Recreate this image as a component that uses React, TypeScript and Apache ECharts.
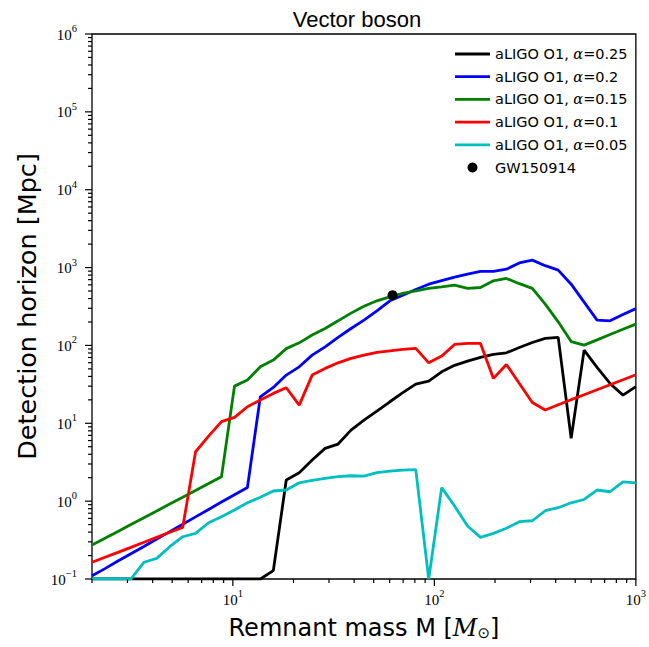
import React, { useEffect, useRef } from "react";
import * as echarts from "echarts";

// Remnant masses (solar masses) at which the horizons are sampled
const masses = [
  2.0, 2.32, 2.69, 3.12, 3.62, 4.19, 4.86, 5.64, 6.53, 7.58, 8.78, 10.19, 11.81,
  13.69, 15.88, 18.41, 21.35, 24.75, 28.7, 33.28, 38.58, 44.74, 51.87, 60.14,
  69.74, 80.86, 93.76, 108.7, 126.0, 146.1, 169.4, 196.4, 227.8, 264.1, 306.2,
  355.1, 411.7, 477.4, 553.5, 641.8, 744.2, 862.9, 1000,
];

// Detection horizon [Mpc]
const alpha025 = [
  0.1, 0.1, 0.1, 0.1, 0.1, 0.1, 0.1, 0.1, 0.1, 0.1, 0.1, 0.1, 0.1, 0.1,
  0.128, 1.87, 2.32, 3.37, 4.76, 5.41, 8.18, 11.0, 14.3, 18.9, 24.8, 31.9, 34.8,
  45.8, 55.5, 62.9, 70.1, 76.6, 80.4, 94.2, 109, 123, 127, 6.4, 87.1, 52.2,
  32.5, 23.0, 29.6,
];
const alpha02 = [
  0.11, 0.136, 0.17, 0.211, 0.262, 0.327, 0.406, 0.505, 0.628, 0.782, 0.973,
  1.21, 1.5, 21.9, 28.9, 41.6, 53.1, 75.1, 96, 127, 165, 211, 278, 374, 442,
  524, 612, 679, 753, 823, 891, 891, 953, 1148, 1245, 1057, 926, 612, 360, 211,
  207, 249, 297,
];
const alpha015 = [
  0.273, 0.334, 0.408, 0.5, 0.612, 0.748, 0.916, 1.12, 1.37, 1.68, 2.06, 30.0,
  35.9, 53.1, 64.8, 91, 108, 136, 165, 207, 260, 319, 374, 421, 465, 502, 540,
  565, 594, 540, 555, 675, 725, 621, 540, 339, 201, 112, 101, 118, 138, 161,
  188,
];
const alpha01 = [
  0.164, 0.19, 0.22, 0.255, 0.296, 0.343, 0.398, 0.461, 4.31, 6.85, 10.5, 11.9,
  16.3, 19.9, 24.2, 28.6, 17.1, 41.6, 50.7, 59.8, 68.1, 75.1, 81.3, 85.3, 88.9,
  91.5, 59.8, 72.9, 103, 106, 106, 37.7, 57, 32.5, 18.5, 14.8, 17.3, 20.1,
  23.3, 27.0, 31.3, 36.3, 42.1,
];
const alpha005 = [
  0.1, 0.1, 0.1, 0.1, 0.164, 0.184, 0.26, 0.349, 0.386, 0.528, 0.631, 0.769,
  0.953, 1.12, 1.35, 1.39, 1.72, 1.85, 1.96, 2.06, 2.12, 2.09, 2.32, 2.43,
  2.51, 2.54, 0.1, 1.49, 0.865, 0.479, 0.343, 0.386, 0.448, 0.544, 0.56, 0.753,
  0.823, 0.953, 1.05, 1.39, 1.32, 1.77, 1.72,
];
const gw150914 = [[62, 442]];

const seriesNames = [
  "aLIGO O1, α=0.25",
  "aLIGO O1, α=0.2",
  "aLIGO O1, α=0.15",
  "aLIGO O1, α=0.1",
  "aLIGO O1, α=0.05",
];
const seriesColors = ["#000000", "#0000ff", "#008000", "#ff0000", "#00bfbf"];
const seriesValues = [alpha025, alpha02, alpha015, alpha01, alpha005];

const X_MIN = 2;
const X_MAX = 1000;
const Y_MIN = 0.1;
const Y_MAX = 1e6;
const xDecades = [1, 10, 100, 1000];
const yDecades = [0.1, 1, 10, 100, 1000, 10000, 100000, 1000000];
const minorMultipliers = [2, 3, 4, 5, 6, 7, 8, 9];

export default function App() {
  const ref = useRef<HTMLDivElement>(null);

  useEffect(() => {
    if (!ref.current) return;
    const chart = echarts.init(ref.current, undefined, { renderer: "svg" });

    // tick marks: [x, y, length, orientation(0 = x axis, 1 = y axis)]
    const ticks: number[][] = [];
    xDecades.forEach((d) => {
      if (d >= X_MIN && d <= X_MAX) ticks.push([d, Y_MIN, 7, 0]);
      minorMultipliers.forEach((m) => {
        const v = d * m;
        if (v >= X_MIN && v <= X_MAX) ticks.push([v, Y_MIN, 4, 0]);
      });
    });
    yDecades.forEach((d) => {
      ticks.push([X_MIN, d, 7, 1]);
      minorMultipliers.forEach((m) => {
        const v = d * m;
        if (v <= Y_MAX) ticks.push([X_MIN, v, 4, 1]);
      });
    });

    const sup = (v: number) => {
      const e = Math.round(Math.log10(v));
      const es = e < 0 ? "−" + Math.abs(e) : String(e);
      return "{b|10}{s|" + es + "}";
    };
    const tickRich = {
      b: {
        fontSize: 15,
        fontFamily: "Liberation Serif",
        color: "#000",
        verticalAlign: "bottom",
        lineHeight: 16,
      },
      s: {
        fontSize: 10.5,
        fontFamily: "Liberation Serif",
        color: "#000",
        verticalAlign: "bottom",
        lineHeight: 10,
        padding: [0, 0, 8, 0],
      },
    };

    const lineIcon = "path://M0,0 L35,0 L35,2.8 L0,2.8 Z";

    const lineSeries = seriesNames.map((name, k) => ({
      name,
      type: "line",
      data: masses.map((m, i) => [m, seriesValues[k][i]]),
      symbol: "none",
      showSymbol: false,
      lineStyle: { color: seriesColors[k], width: 2.8 },
      itemStyle: { color: seriesColors[k] },
      clip: true,
      z: 3 + k,
    }));

    chart.setOption({
      animation: false,
      backgroundColor: "#ffffff",
      title: {
        text: "Vector boson",
        left: 352,
        top: 3,
        textAlign: "center",
        textStyle: {
          fontFamily: "Liberation Sans",
          fontSize: 22,
          fontWeight: "normal",
          color: "#000",
        },
      },
      legend: {
        orient: "vertical",
        left: 455,
        top: 46,
        padding: 0,
        itemWidth: 35,
        itemHeight: 10,
        itemGap: 6.7,
        data: [
          ...seriesNames.map((n) => ({ name: n, icon: lineIcon })),
          { name: "GW150914", icon: "circle" },
        ],
        textStyle: {
          fontFamily: "DejaVu Sans",
          fontSize: 14.5,
          lineHeight: 16,
          color: "#000",
          rich: {
            a: {
              fontFamily: "DejaVu Serif",
              fontStyle: "italic",
              fontSize: 14.5,
              lineHeight: 16,
              color: "#000",
            },
          },
        },
        formatter: (name: string) => name.replace("α=", "{a|α}="),
      },
      grid: {
        left: 92,
        right: 11,
        top: 34,
        bottom: 68,
        show: true,
        borderColor: "#000",
        borderWidth: 1.3,
        backgroundColor: "transparent",
      },
      xAxis: {
        type: "log",
        logBase: 10,
        min: X_MIN,
        max: X_MAX,
        axisLine: { show: false },
        axisTick: { show: false },
        splitLine: { show: false },
        minorTick: { show: false },
        axisLabel: {
          showMinLabel: false,
          margin: 12,
          formatter: (v: number) => sup(v),
          rich: tickRich,
        },
        name: "Remnant mass M [{i|M}{sub|⊙}]",
        nameLocation: "middle",
        nameGap: 36,
        nameTextStyle: {
          fontFamily: "DejaVu Sans",
          fontSize: 24,
          color: "#000",
          rich: {
            i: {
              fontFamily: "DejaVu Serif",
              fontStyle: "italic",
              fontSize: 24,
              color: "#000",
            },
            sub: {
              fontFamily: "DejaVu Sans",
              fontSize: 15,
              color: "#000",
              verticalAlign: "top",
              padding: [10, 0, 0, 0],
            },
          },
        },
      },
      yAxis: {
        type: "log",
        logBase: 10,
        min: Y_MIN,
        max: Y_MAX,
        axisLine: { show: false },
        axisTick: { show: false },
        splitLine: { show: false },
        minorTick: { show: false },
        axisLabel: {
          margin: 15,
          formatter: (v: number) => sup(v),
          rich: tickRich,
        },
        name: "Detection horizon [Mpc]",
        nameLocation: "middle",
        nameRotate: 90,
        nameGap: 52,
        nameTextStyle: {
          fontFamily: "DejaVu Sans",
          fontSize: 25.5,
          color: "#000",
        },
      },
      series: [
        ...lineSeries,
        {
          name: "GW150914",
          type: "scatter",
          data: gw150914,
          symbol: "circle",
          symbolSize: 10,
          itemStyle: { color: "#000", opacity: 1 },
          z: 10,
        },
        {
          name: "ticks",
          type: "custom",
          silent: true,
          clip: false,
          data: ticks,
          encode: { x: 0, y: 1 },
          renderItem: (params: any, api: any) => {
            const p = api.coord([api.value(0), api.value(1)]);
            const len = api.value(2);
            const vertical = api.value(3) === 0;
            return {
              type: "line",
              shape: vertical
                ? { x1: p[0], y1: p[1], x2: p[0], y2: p[1] + len }
                : { x1: p[0], y1: p[1], x2: p[0] - len, y2: p[1] },
              style: { stroke: "#000", lineWidth: 1.2 },
            };
          },
          z: 20,
        },
      ],
    });

    return () => chart.dispose();
  }, []);

  return (
    <div
      ref={ref}
      style={{ position: "fixed", left: 0, top: 0, width: 649, height: 647 }}
    />
  );
}
